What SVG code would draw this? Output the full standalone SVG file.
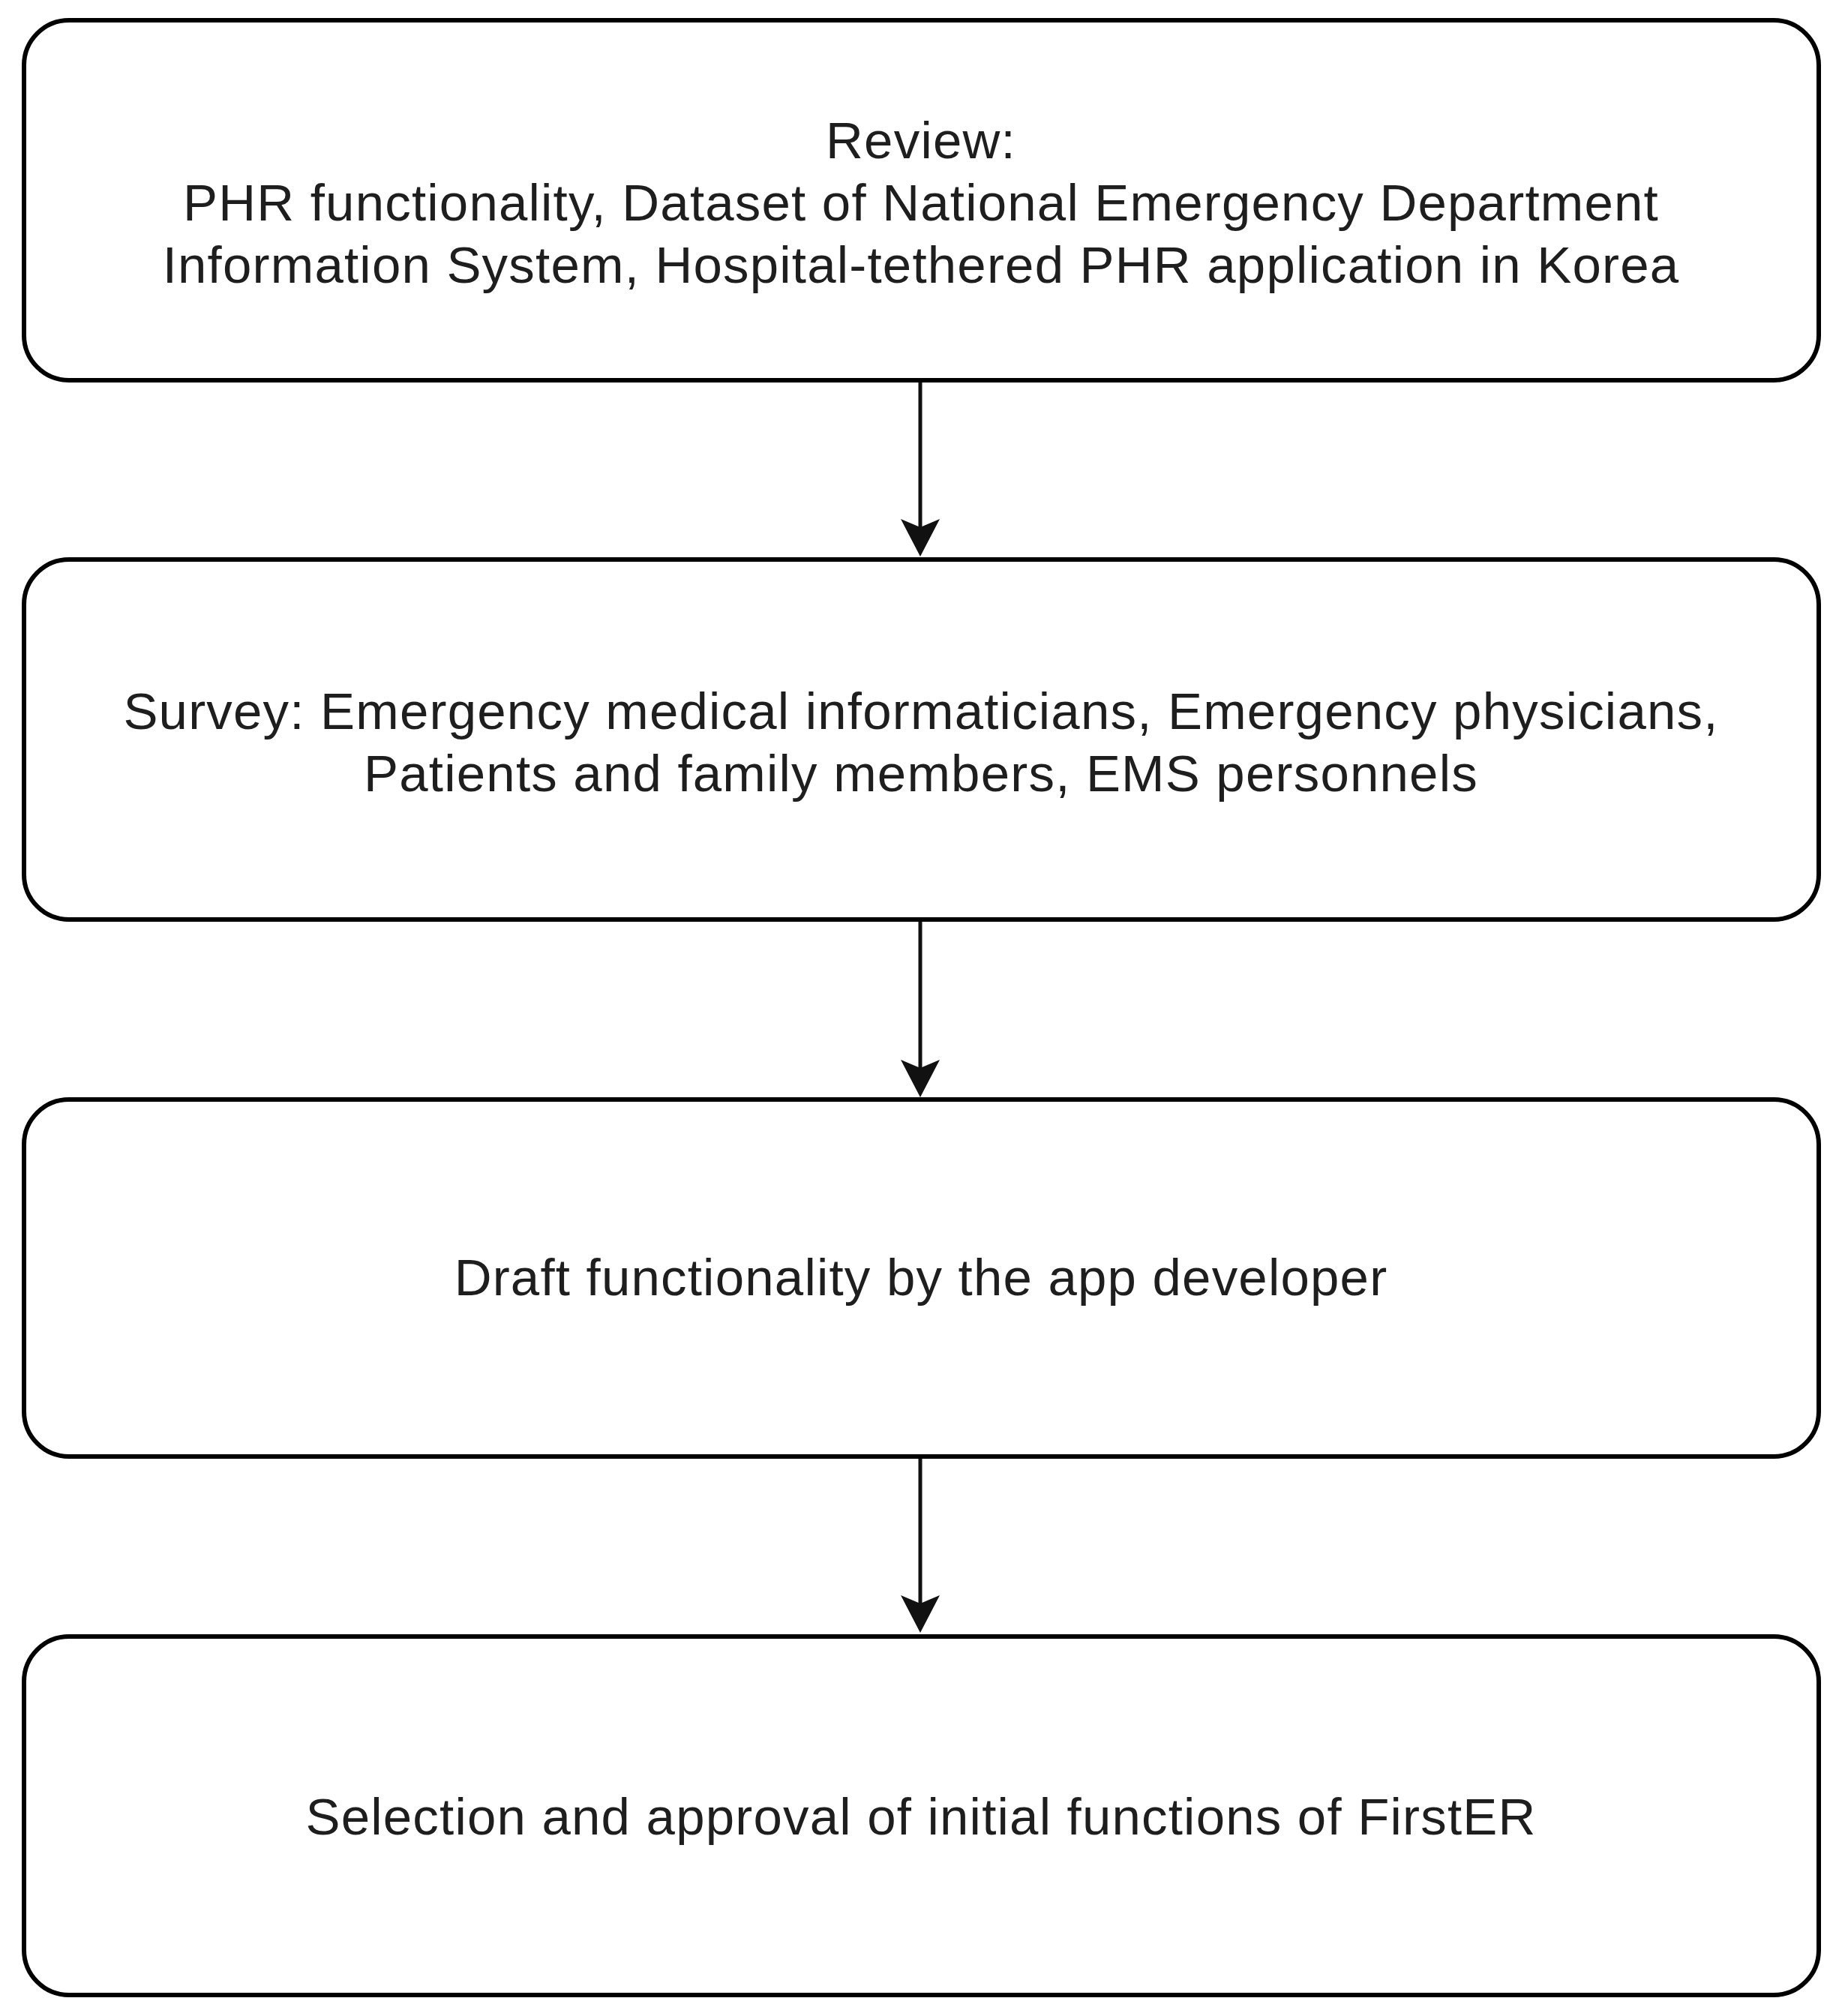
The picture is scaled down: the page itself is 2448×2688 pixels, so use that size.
<svg xmlns="http://www.w3.org/2000/svg" width="2448" height="2688" viewBox="0 0 2448 2688">
<style>
.box{fill:#fff;stroke:#000;stroke-width:6}
.lbl{font-family:"Liberation Sans",Arial,sans-serif;font-size:69px;letter-spacing:1.2px;fill:#1e1e1e;text-anchor:middle}
.conn{stroke:#111;stroke-width:5;fill:none}
</style>
<defs>
<marker id="ah" markerUnits="userSpaceOnUse" viewBox="0 0 50 52" markerWidth="50" markerHeight="52" refX="20" refY="26" orient="auto">
<path d="M0,0 L50,26 L0,52 L11,26 z" fill="#111"/>
</marker>
</defs>
<rect width="2448" height="2688" fill="#fff"/>
<g id="node-review">
<rect class="box" x="32" y="27" width="2393" height="480" rx="60" ry="60"/>
<text class="lbl" x="1228" y="211">Review:</text>
<text class="lbl" x="1228" y="294">PHR functionality, Dataset of National Emergency Department</text>
<text class="lbl" x="1228" y="377">Information System, Hospital-tethered PHR application in Korea</text>
</g>
<g id="node-survey">
<rect class="box" x="32" y="746" width="2393" height="480" rx="60" ry="60"/>
<text class="lbl" x="1228" y="972">Survey: Emergency medical informaticians, Emergency physicians,</text>
<text class="lbl" x="1228" y="1055">Patients and family members, EMS personnels</text>
</g>
<g id="node-draft">
<rect class="box" x="32" y="1466" width="2393" height="476" rx="60" ry="60"/>
<text class="lbl" x="1228" y="1727">Draft functionality by the app developer</text>
</g>
<g id="node-selection">
<rect class="box" x="32" y="2182" width="2393" height="478" rx="60" ry="60"/>
<text class="lbl" x="1228" y="2446">Selection and approval of initial functions of FirstER</text>
</g>
<g id="connectors">
<line class="conn" x1="1227" y1="510" x2="1227" y2="712" marker-end="url(#ah)"/>
<line class="conn" x1="1227" y1="1229" x2="1227" y2="1433" marker-end="url(#ah)"/>
<line class="conn" x1="1227" y1="1945" x2="1227" y2="2147" marker-end="url(#ah)"/>
</g>
</svg>
